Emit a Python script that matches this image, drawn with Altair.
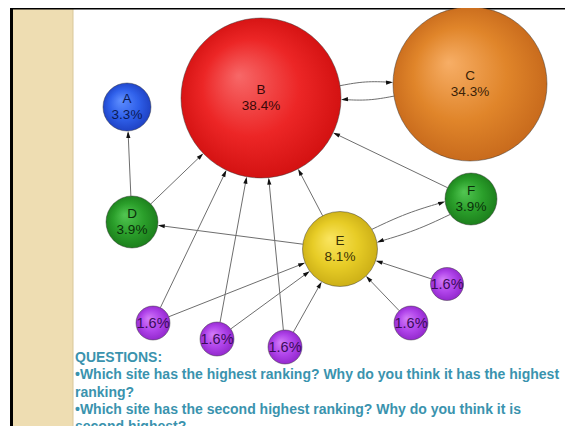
import math
import altair as alt
import pandas as pd

# ---------------- data ----------------
node_id = ["A", "B", "C", "D", "E", "F", "P1", "P2", "P3", "P4", "P5"]
node_letter = ["A", "B", "C", "D", "E", "F", "", "", "", "", ""]
node_pct = ["3.3%", "38.4%", "34.3%", "3.9%", "8.1%", "3.9%", "1.6%", "1.6%", "1.6%", "1.6%", "1.6%"]
node_x = [127, 261, 470, 132, 340, 471, 153, 217, 285, 447, 411]
node_y = [107, 98, 84, 222, 249, 199, 323, 339, 347, 284, 323]
node_r = [24, 80, 77, 26, 37.5, 26, 17, 17, 17, 16.5, 17]
node_group = ["blue", "red", "orange", "green", "yellow", "green",
              "purple", "purple", "purple", "purple", "purple"]

edge_src = ["D", "D", "E", "E", "F", "B", "C", "E", "F", "P1", "P1", "P2", "P2", "P3", "P3", "P4", "P5"]
edge_dst = ["A", "B", "D", "B", "B", "C", "B", "F", "E", "B", "E", "B", "E", "B", "E", "E", "E"]

question_lines = [
    "QUESTIONS:",
    "\u2022Which site has the highest ranking? Why do you think it has the highest",
    "ranking?",
    "\u2022Which site has the second highest ranking? Why do you think it is",
    "second highest?",
]

# ---------------- layout / style ----------------
W, H = 557, 418
OFF = 8  # page margin: chart pixel = picture pixel - 8

palette = {
    "red":    ["#F76868", "#EC2626", "#CF0E0E"],
    "orange": ["#F7AE66", "#E0852A", "#C4661A"],
    "blue":   ["#5E8EFF", "#2F60EA", "#1C3DBE"],
    "green":  ["#52C652", "#2A9E2A", "#1A7A1A"],
    "yellow": ["#FAE560", "#E7CC26", "#C8AB14"],
    "purple": ["#D27CF8", "#B044EA", "#8E24C8"],
}
text_colors = {
    "red": "#3A0808", "orange": "#3A2208", "blue": "#0A1A55",
    "green": "#0A300A", "yellow": "#3A3205", "purple": "#3A0C5A",
}

nodes = pd.DataFrame({
    "id": node_id, "letter": node_letter, "pct": node_pct,
    "x": node_x, "y": node_y, "r": node_r, "group": node_group,
})
nodes["size"] = (2 * nodes["r"]) ** 2
pos = {n: (x, y, r) for n, x, y, r in zip(node_id, node_x, node_y, node_r)}

pairs = set(zip(edge_src, edge_dst))
straight, curved, arrows = [], [], []
for k, (s, t) in enumerate(zip(edge_src, edge_dst)):
    sx, sy, sr = pos[s]
    tx, ty, tr = pos[t]
    dx, dy = tx - sx, ty - sy
    L = math.hypot(dx, dy)
    ux, uy = dx / L, dy / L
    nx, ny = uy, -ux
    off = 7 if (t, s) in pairs else 0
    a_s = math.sqrt(max(sr ** 2 - off ** 2, 0))
    a_t = math.sqrt(max(tr ** 2 - off ** 2, 0))
    x1 = sx + off * nx + ux * a_s
    y1 = sy + off * ny + uy * a_s
    ex = tx + off * nx - ux * a_t
    ey = ty + off * ny - uy * a_t
    lx, ly = ex - 2 * ux, ey - 2 * uy
    if off:
        # gently bowed connector for the two-way links
        mx, my = (x1 + lx) / 2 + 3 * nx, (y1 + ly) / 2 + 3 * ny
        for i, (px, py) in enumerate([(x1, y1), (mx, my), (lx, ly)]):
            curved.append({"e": k, "i": i, "x": px, "y": py})
    else:
        straight.append({"x": x1, "y": y1, "x2": lx, "y2": ly})
    ang = math.degrees(math.atan2(ux, -uy)) % 360
    arrows.append({"x": ex - 3.5 * ux, "y": ey - 3.5 * uy, "angle": ang})
edges = pd.DataFrame(straight)
bent = pd.DataFrame(curved)
heads = pd.DataFrame(arrows)

X = alt.Scale(domain=[OFF, OFF + W], nice=False, zero=False)
Y = alt.Scale(domain=[OFF, OFF + H], nice=False, zero=False, reverse=True)

one = pd.DataFrame({"k": [0]})

strip = alt.Chart(one).mark_rect(color="#EEDDB2").encode(
    x=alt.value(5), x2=alt.value(65), y=alt.value(0), y2=alt.value(H))
strip_edge = alt.Chart(one).mark_rule(color="#D9C79A", strokeWidth=1).encode(
    x=alt.value(65), y=alt.value(0), y2=alt.value(H))
top_border = alt.Chart(one).mark_rule(color="#000000", strokeWidth=3).encode(
    x=alt.value(2), x2=alt.value(W), y=alt.value(0))
left_border = alt.Chart(one).mark_rule(color="#000000", strokeWidth=3).encode(
    x=alt.value(3.5), y=alt.value(0), y2=alt.value(H))

edge_layer = alt.Chart(edges).mark_rule(color="#6E6E6E", strokeWidth=1).encode(
    x=alt.X("x:Q", scale=X, axis=None), y=alt.Y("y:Q", scale=Y, axis=None),
    x2="x2:Q", y2="y2:Q")

bent_layer = alt.Chart(bent).mark_line(
    color="#6E6E6E", strokeWidth=1, interpolate="basis"
).encode(
    x=alt.X("x:Q", scale=X, axis=None), y=alt.Y("y:Q", scale=Y, axis=None),
    detail="e:N", order="i:Q")

head_layer = alt.Chart(heads).mark_point(
    shape="M0,-1L0.6,1L-0.6,1Z", filled=True, color="#111111", opacity=1, size=49
).encode(
    x=alt.X("x:Q", scale=X, axis=None), y=alt.Y("y:Q", scale=Y, axis=None),
    angle=alt.Angle("angle:Q", scale=None))

node_layers = []
for g, (c0, c1, c2) in palette.items():
    grad = {
        "gradient": "radial", "x1": 0.36, "y1": 0.36, "r1": 0,
        "x2": 0.5, "y2": 0.5, "r2": 0.55,
        "stops": [{"offset": 0, "color": c0}, {"offset": 0.55, "color": c1},
                  {"offset": 1, "color": c2}],
    }
    node_layers.append(
        alt.Chart(nodes).transform_filter(alt.datum.group == g).mark_circle(
            fill=grad, stroke="#333333", strokeOpacity=0.45, strokeWidth=1, opacity=1
        ).encode(
            x=alt.X("x:Q", scale=X, axis=None), y=alt.Y("y:Q", scale=Y, axis=None),
            size=alt.Size("size:Q", scale=None))
    )

tcolor = alt.Color("group:N", scale=alt.Scale(domain=list(text_colors.keys()),
                                              range=list(text_colors.values())), legend=None)
letter_layer = alt.Chart(nodes).transform_filter(alt.datum.letter != "").mark_text(
    font="Liberation Sans", fontSize=13.5, dy=-8, baseline="middle"
).encode(x=alt.X("x:Q", scale=X, axis=None), y=alt.Y("y:Q", scale=Y, axis=None),
         text="letter:N", color=tcolor)
pct_layer = alt.Chart(nodes).transform_filter(alt.datum.letter != "").mark_text(
    font="Liberation Sans", fontSize=13.5, dy=8, baseline="middle"
).encode(x=alt.X("x:Q", scale=X, axis=None), y=alt.Y("y:Q", scale=Y, axis=None),
         text="pct:N", color=tcolor)
small_layer = alt.Chart(nodes).transform_filter(alt.datum.letter == "").mark_text(
    font="Liberation Sans", fontSize=14.5, dy=1, baseline="middle"
).encode(x=alt.X("x:Q", scale=X, axis=None), y=alt.Y("y:Q", scale=Y, axis=None),
         text="pct:N", color=tcolor)

questions = alt.Chart(one).mark_text(
    align="left", baseline="alphabetic", font="Liberation Sans", fontSize=14,
    fontWeight="bold", color="#3A93AE", lineHeight=17.3
).encode(x=alt.value(67), y=alt.value(354), text=alt.value(question_lines))

chart = alt.layer(
    strip, strip_edge, top_border, left_border, edge_layer, bent_layer, head_layer,
    *node_layers, letter_layer, pct_layer, small_layer, questions
).properties(
    width=W, height=H, autosize=alt.AutoSizeParams(type="none"), padding=0,
    background="#FFFFFF"
).configure_view(stroke=None)

chart.save("out.html", embed_options={"renderer": "svg", "actions": False})
